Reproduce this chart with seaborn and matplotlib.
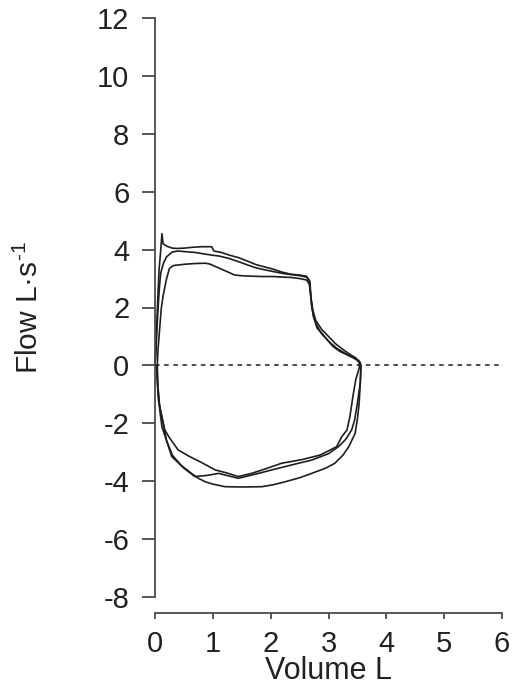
import matplotlib
matplotlib.use("Agg")
import matplotlib.pyplot as plt
import seaborn as sns
import pandas as pd

# ---------------- data ----------------
# Loop A: expiration (with initial spike) + inspiration
vol_a = [0.00, 0.02, 0.03, 0.05, 0.07, 0.10, 0.12, 0.14, 0.20, 0.30, 0.38, 0.50, 0.65, 0.80, 0.98,
         1.02, 1.15, 1.30, 1.45, 1.60, 1.75, 1.90, 2.05, 2.20, 2.35, 2.50, 2.62, 2.68, 2.69, 2.71,
         2.74, 2.78, 2.85, 2.95, 3.08, 3.20, 3.37, 3.47, 3.55,
         3.56, 3.55, 3.50, 3.45, 3.40, 3.30, 3.17, 3.00, 2.71, 2.40, 2.02, 1.75, 1.44, 1.10, 0.90,
         0.69, 0.50, 0.29, 0.20, 0.15, 0.08, 0.05, 0.03]
flow_a = [0.00, 0.60, 1.40, 2.40, 3.30, 4.00, 4.55, 4.20, 4.12, 4.05, 4.04, 4.05, 4.08, 4.10, 4.10,
          3.95, 3.90, 3.80, 3.72, 3.60, 3.48, 3.40, 3.32, 3.22, 3.15, 3.12, 3.08, 2.90, 2.50, 2.05,
          1.70, 1.45, 1.20, 0.95, 0.65, 0.48, 0.32, 0.22, 0.10,
          -0.10, -0.60, -1.30, -1.90, -2.23, -2.55, -2.81, -3.05, -3.27, -3.42, -3.61, -3.75, -3.90,
          -3.73, -3.80, -3.84, -3.55, -3.15, -2.60, -2.10, -1.40, -0.70, 0.00]

# Loop B
vol_b = [0.00, 0.02, 0.04, 0.06, 0.08, 0.10, 0.15, 0.20, 0.30, 0.40, 0.52, 0.70, 0.85, 0.98, 1.10,
         1.27, 1.45, 1.60, 1.73, 1.90, 2.05, 2.20, 2.34, 2.50, 2.62, 2.66, 2.68, 2.70, 2.73, 2.78,
         2.88, 3.00, 3.12, 3.25, 3.37, 3.47, 3.53,
         3.56, 3.55, 3.53, 3.50, 3.46, 3.40, 3.35, 3.25, 3.11, 2.95, 2.71, 2.50, 2.25, 2.05, 1.85,
         1.50, 1.21, 1.00, 0.87, 0.75, 0.63, 0.45, 0.30, 0.20, 0.12, 0.08, 0.05, 0.04]
flow_b = [0.00, 0.80, 1.50, 2.20, 2.80, 3.20, 3.55, 3.75, 3.92, 3.95, 3.93, 3.90, 3.85, 3.81, 3.78,
          3.70, 3.58, 3.47, 3.38, 3.30, 3.24, 3.18, 3.14, 3.10, 3.05, 2.95, 2.70, 2.30, 1.90, 1.55,
          1.25, 1.00, 0.75, 0.55, 0.38, 0.26, 0.15,
          0.00, -0.60, -1.30, -1.85, -2.35, -2.60, -2.81, -3.10, -3.38, -3.55, -3.73, -3.88, -4.02,
          -4.12, -4.19, -4.20, -4.19, -4.10, -4.02, -3.90, -3.73, -3.45, -3.10, -2.60, -2.12, -1.50,
          -0.80, 0.00]

# Loop C
vol_c = [0.04, 0.05, 0.07, 0.09, 0.11, 0.14, 0.17, 0.20, 0.25, 0.32, 0.40, 0.55, 0.70, 0.87, 0.95,
         1.04, 1.20, 1.38, 1.55, 1.70, 1.85, 2.05, 2.20, 2.34, 2.50, 2.62, 2.67, 2.69, 2.71, 2.74,
         2.80, 2.90, 3.02, 3.15, 3.30, 3.42, 3.50, 3.54,
         3.53, 3.47, 3.42, 3.37, 3.32, 3.23, 3.14, 3.00, 2.85, 2.55, 2.19, 1.90, 1.67, 1.44, 1.25,
         1.04, 0.80, 0.60, 0.40, 0.25, 0.17, 0.10, 0.06, 0.04, 0.03, 0.04]
flow_c = [0.00, 0.50, 1.00, 1.50, 2.00, 2.40, 2.70, 3.00, 3.35, 3.45, 3.47, 3.50, 3.52, 3.53, 3.50,
          3.42, 3.28, 3.12, 3.09, 3.08, 3.07, 3.07, 3.05, 3.04, 3.00, 2.95, 2.80, 2.45, 2.05, 1.70,
          1.30, 1.05, 0.80, 0.58, 0.40, 0.28, 0.18, 0.05,
          -0.10, -0.50, -1.10, -1.77, -2.23, -2.46, -2.81, -2.95, -3.10, -3.25, -3.38, -3.58, -3.73,
          -3.84, -3.72, -3.61, -3.35, -3.15, -2.92, -2.50, -2.23, -1.60, -1.20, -0.60, -0.26, 0.00]

x_ticks = [0, 1, 2, 3, 4, 5, 6]
y_ticks = [-8, -6, -4, -2, 0, 2, 4, 6, 8, 10, 12]

# ---------------- styling ----------------
sns.set_style("ticks")
plt.rcParams["font.family"] = ["Liberation Sans", "DejaVu Sans"]
plt.rcParams["mathtext.fontset"] = "custom"
plt.rcParams["mathtext.rm"] = "Liberation Sans"
plt.rcParams["mathtext.it"] = "Liberation Sans"

W, H = 512, 689
fig = plt.figure(figsize=(W / 100, H / 100), dpi=100)
ax = fig.add_axes([155 / W, (H - 597) / H, (502 - 155) / W, (597 - 18) / H])

line_col = "#1e1e1e"
for v, f in [(vol_a, flow_a), (vol_b, flow_b), (vol_c, flow_c)]:
    df = pd.DataFrame({"Volume": v, "Flow": f})
    sns.lineplot(data=df, x="Volume", y="Flow", sort=False, estimator=None,
                 color=line_col, linewidth=1.2, ax=ax, clip_on=False)

ax.axhline(0, color="#1e1e1e", linewidth=1.1, linestyle=(0, (3, 3)))

ax.set_xlim(0, 6)
ax.set_ylim(-8, 12)
ax.set_xticks(x_ticks)
ax.set_yticks(y_ticks)
ax.set_xticklabels([str(t) for t in x_ticks])
ax.set_yticklabels([str(t) for t in y_ticks])

for s in ["top", "right"]:
    ax.spines[s].set_visible(False)
spine_col = "#4a4a4a"
ax.spines["left"].set_bounds(-8, 12)
ax.spines["bottom"].set_bounds(0, 6)
ax.spines["bottom"].set_position(("outward", 16 * 0.72))
for s in ["left", "bottom"]:
    ax.spines[s].set_color(spine_col)
    ax.spines[s].set_linewidth(1.3)

ax.tick_params(axis="y", length=9.4, width=1.3, color=spine_col, pad=9,
               labelsize=21, labelcolor="#222222")
ax.tick_params(axis="x", length=4, width=1.3, color=spine_col, pad=8,
               labelsize=21, labelcolor="#222222")

ax.set_xlabel("Volume L", fontsize=22, color="#222222", labelpad=-1)
ax.set_ylabel(r"Flow L·s$^{\text{-1}}$", fontsize=21.5, color="#222222", labelpad=38)

fig.savefig("out.png", dpi=100)
